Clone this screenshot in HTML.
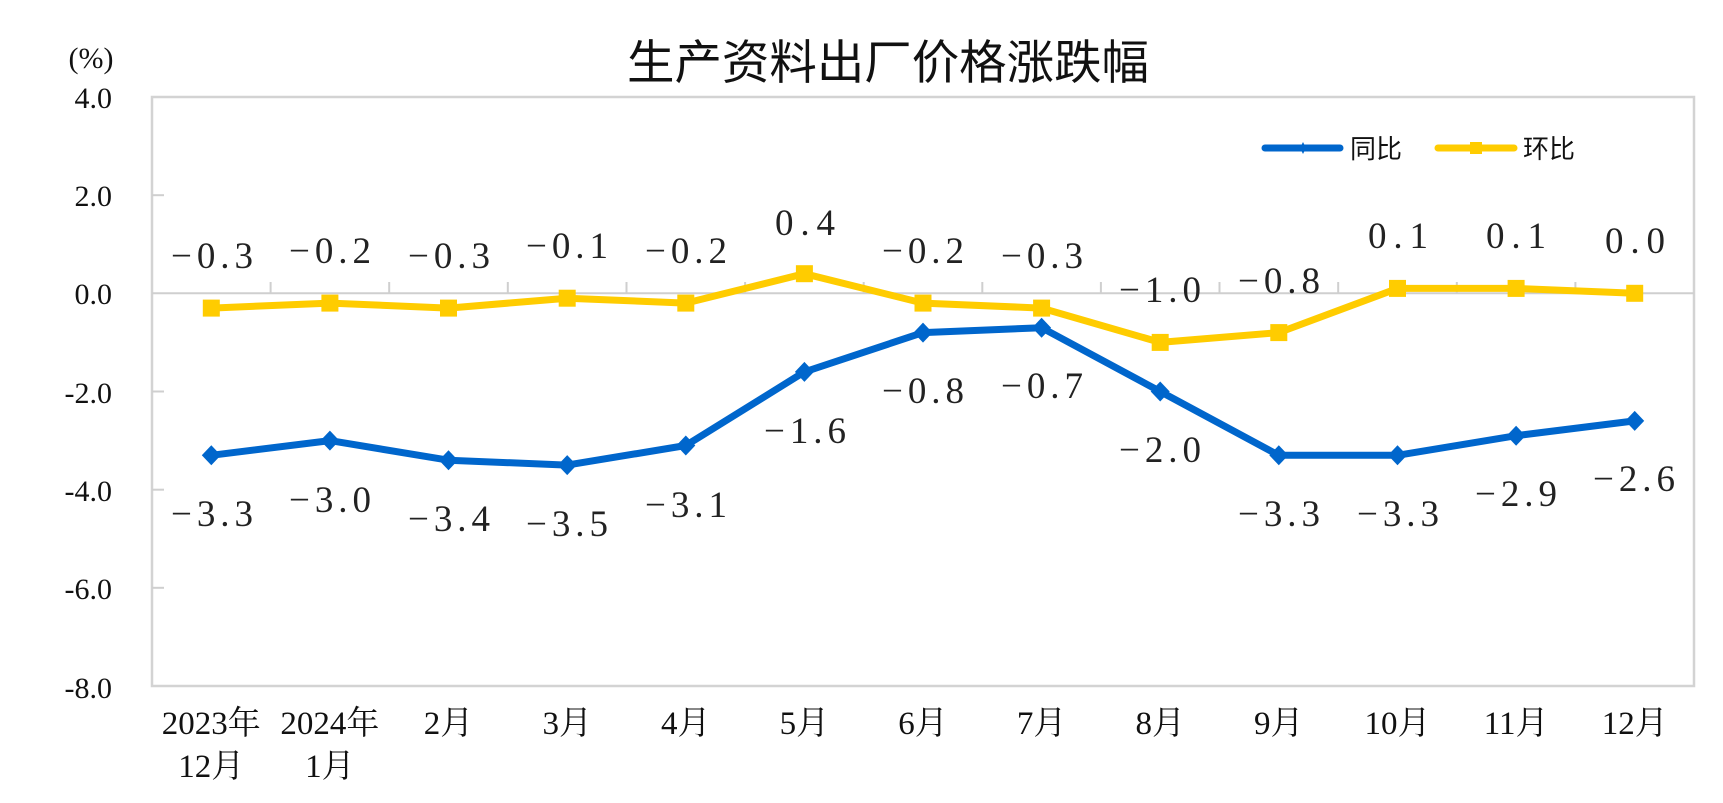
<!DOCTYPE html>
<html>
<head>
<meta charset="utf-8">
<style>
  html,body{margin:0;padding:0;background:#fff;}
  svg{display:block;}
  .ser{font-family:"Liberation Serif","Noto Serif CJK SC",serif;fill:#111;}
  .dl{font-family:"Liberation Serif","Noto Serif CJK SC",serif;font-size:37px;fill:#222;}
  .cjk{font-family:"Liberation Sans","Noto Sans CJK SC",sans-serif;fill:#111;}
</style>
</head>
<body>
<svg width="1723" height="803" viewBox="0 0 1723 803" xmlns="http://www.w3.org/2000/svg">
  <rect x="0" y="0" width="1723" height="803" fill="#fff"/>
  <!-- title -->
  <text class="cjk" x="888" y="79" font-size="47" text-anchor="middle" textLength="522" lengthAdjust="spacingAndGlyphs">生产资料出厂价格涨跌幅</text>
  <!-- unit -->
  <text class="ser" x="91" y="68" font-size="30" text-anchor="middle">(%)</text>

  <!-- plot border -->
  <rect x="152" y="97" width="1542" height="589" fill="none" stroke="#d3d3d3" stroke-width="2.5"/>
  <!-- zero axis -->
  <line x1="152" y1="293.3" x2="1694" y2="293.3" stroke="#cfcfcf" stroke-width="2"/>
  <!-- y ticks -->
  <g stroke="#cfcfcf" stroke-width="2">
    <line x1="152" y1="195.2" x2="164" y2="195.2"/>
    <line x1="152" y1="391.5" x2="164" y2="391.5"/>
    <line x1="152" y1="489.7" x2="164" y2="489.7"/>
    <line x1="152" y1="587.8" x2="164" y2="587.8"/>
  </g>
  <!-- x ticks on zero line -->
  <g stroke="#cfcfcf" stroke-width="2">
    <line x1="270.6" y1="282" x2="270.6" y2="293.3"/>
    <line x1="389.2" y1="282" x2="389.2" y2="293.3"/>
    <line x1="507.8" y1="282" x2="507.8" y2="293.3"/>
    <line x1="626.5" y1="282" x2="626.5" y2="293.3"/>
    <line x1="745.1" y1="282" x2="745.1" y2="293.3"/>
    <line x1="863.7" y1="282" x2="863.7" y2="293.3"/>
    <line x1="982.3" y1="282" x2="982.3" y2="293.3"/>
    <line x1="1100.9" y1="282" x2="1100.9" y2="293.3"/>
    <line x1="1219.5" y1="282" x2="1219.5" y2="293.3"/>
    <line x1="1338.2" y1="282" x2="1338.2" y2="293.3"/>
    <line x1="1456.8" y1="282" x2="1456.8" y2="293.3"/>
    <line x1="1575.4" y1="282" x2="1575.4" y2="293.3"/>
  </g>

  <!-- y labels -->
  <g class="ser" font-size="30" text-anchor="end">
    <text x="112" y="108">4.0</text>
    <text x="112" y="206">2.0</text>
    <text x="112" y="304">0.0</text>
    <text x="112" y="403">-2.0</text>
    <text x="112" y="501">-4.0</text>
    <text x="112" y="599">-6.0</text>
    <text x="112" y="698">-8.0</text>
  </g>

  <!-- x labels -->
  <g class="ser" font-size="33" text-anchor="middle">
    <text x="211.3" y="734">2023年</text>
    <text x="211.3" y="777">12月</text>
    <text x="329.9" y="734">2024年</text>
    <text x="329.9" y="777">1月</text>
    <text x="448.5" y="734">2月</text>
    <text x="567.2" y="734">3月</text>
    <text x="685.8" y="734">4月</text>
    <text x="804.4" y="734">5月</text>
    <text x="923.0" y="734">6月</text>
    <text x="1041.6" y="734">7月</text>
    <text x="1160.2" y="734">8月</text>
    <text x="1278.8" y="734">9月</text>
    <text x="1397.5" y="734">10月</text>
    <text x="1516.1" y="734">11月</text>
    <text x="1634.7" y="734">12月</text>
  </g>

  <!-- blue series 同比 -->
  <polyline fill="none" stroke="#0066CC" stroke-width="7" stroke-linejoin="round"
    points="211.3,455.3 329.9,440.6 448.5,460.2 567.2,465.1 685.8,445.5 804.4,371.9 923.0,332.6 1041.6,327.7 1160.2,391.5 1278.8,455.3 1397.5,455.3 1516.1,435.7 1634.7,420.9"/>
  <g fill="#0066CC">
    <polygon points="211.3,445.3 220.8,455.3 211.3,465.3 201.8,455.3"/>
    <polygon points="329.9,430.6 339.4,440.6 329.9,450.6 320.4,440.6"/>
    <polygon points="448.5,450.2 458,460.2 448.5,470.2 439,460.2"/>
    <polygon points="567.2,455.1 576.7,465.1 567.2,475.1 557.7,465.1"/>
    <polygon points="685.8,435.5 695.3,445.5 685.8,455.5 676.3,445.5"/>
    <polygon points="804.4,361.9 813.9,371.9 804.4,381.9 794.9,371.9"/>
    <polygon points="923.0,322.6 932.5,332.6 923.0,342.6 913.5,332.6"/>
    <polygon points="1041.6,317.7 1051.1,327.7 1041.6,337.7 1032.1,327.7"/>
    <polygon points="1160.2,381.5 1169.7,391.5 1160.2,401.5 1150.7,391.5"/>
    <polygon points="1278.8,445.3 1288.3,455.3 1278.8,465.3 1269.3,455.3"/>
    <polygon points="1397.5,445.3 1407,455.3 1397.5,465.3 1388,455.3"/>
    <polygon points="1516.1,425.7 1525.6,435.7 1516.1,445.7 1506.6,435.7"/>
    <polygon points="1634.7,410.9 1644.2,420.9 1634.7,430.9 1625.2,420.9"/>
  </g>

  <!-- yellow series 环比 -->
  <polyline fill="none" stroke="#FFCC00" stroke-width="7" stroke-linejoin="round"
    points="211.3,308.1 329.9,303.1 448.5,308.1 567.2,298.2 685.8,303.1 804.4,273.7 923.0,303.1 1041.6,308.1 1160.2,342.4 1278.8,332.6 1397.5,288.4 1516.1,288.4 1634.7,293.3"/>
  <g fill="#FFCC00">
    <rect x="202.8" y="299.6" width="17" height="17"/>
    <rect x="321.4" y="294.6" width="17" height="17"/>
    <rect x="440" y="299.6" width="17" height="17"/>
    <rect x="558.7" y="289.7" width="17" height="17"/>
    <rect x="677.3" y="294.6" width="17" height="17"/>
    <rect x="795.9" y="265.2" width="17" height="17"/>
    <rect x="914.5" y="294.6" width="17" height="17"/>
    <rect x="1033.1" y="299.6" width="17" height="17"/>
    <rect x="1151.7" y="333.9" width="17" height="17"/>
    <rect x="1270.3" y="324.1" width="17" height="17"/>
    <rect x="1389" y="279.9" width="17" height="17"/>
    <rect x="1507.6" y="279.9" width="17" height="17"/>
    <rect x="1626.2" y="284.8" width="17" height="17"/>
  </g>

  <!-- yellow labels -->
  <g class="dl" text-anchor="middle">
    <text x="212" y="268" textLength="82">−0.3</text>
    <text x="330" y="263" textLength="82">−0.2</text>
    <text x="449" y="268" textLength="82">−0.3</text>
    <text x="567" y="258" textLength="82">−0.1</text>
    <text x="686" y="263" textLength="82">−0.2</text>
    <text x="805" y="235" textLength="60">0.4</text>
    <text x="923" y="263" textLength="82">−0.2</text>
    <text x="1042" y="268" textLength="82">−0.3</text>
    <text x="1160" y="302" textLength="82">−1.0</text>
    <text x="1279" y="293" textLength="82">−0.8</text>
    <text x="1398" y="248" textLength="60">0.1</text>
    <text x="1516" y="248" textLength="60">0.1</text>
    <text x="1635" y="253" textLength="60">0.0</text>
  </g>

  <!-- blue labels -->
  <g class="dl" text-anchor="middle">
    <text x="212" y="526" textLength="82">−3.3</text>
    <text x="330" y="512" textLength="82">−3.0</text>
    <text x="449" y="531" textLength="82">−3.4</text>
    <text x="567" y="536" textLength="82">−3.5</text>
    <text x="686" y="517" textLength="82">−3.1</text>
    <text x="805" y="443" textLength="82">−1.6</text>
    <text x="923" y="403" textLength="82">−0.8</text>
    <text x="1042" y="398" textLength="82">−0.7</text>
    <text x="1160" y="462" textLength="82">−2.0</text>
    <text x="1279" y="526" textLength="82">−3.3</text>
    <text x="1398" y="526" textLength="82">−3.3</text>
    <text x="1516" y="506" textLength="82">−2.9</text>
    <text x="1634" y="491" textLength="82">−2.6</text>
  </g>

  <!-- legend -->
  <line x1="1265" y1="148" x2="1340" y2="148" stroke="#0066CC" stroke-width="7" stroke-linecap="round"/>
  <polygon points="1303,142 1306,148 1303,154 1300,148" fill="#0066CC"/>
  <text class="cjk" x="1350" y="158" font-size="26" textLength="52" lengthAdjust="spacingAndGlyphs">同比</text>
  <line x1="1438" y1="148" x2="1514" y2="148" stroke="#FFCC00" stroke-width="7" stroke-linecap="round"/>
  <rect x="1470" y="142" width="12" height="12" fill="#FFCC00"/>
  <text class="cjk" x="1523" y="158" font-size="26" textLength="52" lengthAdjust="spacingAndGlyphs">环比</text>
</svg>
</body>
</html>
